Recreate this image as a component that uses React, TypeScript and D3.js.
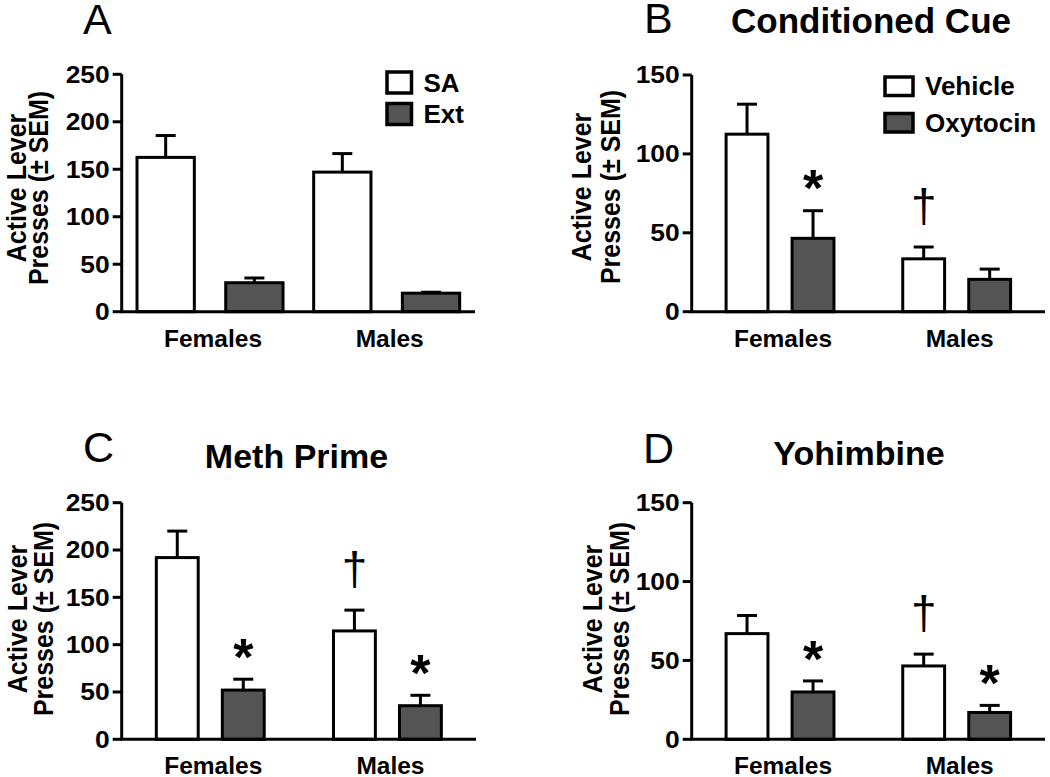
import React from 'react'
import * as d3 from 'd3'

const FONT = "'Liberation Sans', Arial, Helvetica, sans-serif"

const groups = ['Females', 'Males']
const saSeries = ['SA', 'Ext']
const drugSeries = ['Vehicle', 'Oxytocin']

const ticks250 = [0, 50, 100, 150, 200, 250]
const ticks150 = [0, 50, 100, 150]

// A - self-administration vs extinction
const saMean = [162.5, 147]
const saSem = [23, 19.5]
const extMean = [30.5, 19.5]
const extSem = [5, 1]

// B - conditioned cue
const cueVehMean = [112.5, 33.5]
const cueVehSem = [19, 7.5]
const cueOxyMean = [46.5, 20.5]
const cueOxySem = [17.5, 6.5]
const cueVehMarks = ['', '†']
const cueOxyMarks = ['*', '']

// C - meth prime
const primeVehMean = [192, 114.5]
const primeVehSem = [28, 22]
const primeOxyMean = [52, 35.5]
const primeOxySem = [11.5, 11]
const primeVehMarks = ['', '†']
const primeOxyMarks = ['*', '*']

// D - yohimbine
const yohVehMean = [67, 46.5]
const yohVehSem = [11.5, 7.5]
const yohOxyMean = [30, 17]
const yohOxySem = [7, 4.5]
const yohVehMarks = ['', '†']
const yohOxyMarks = ['*', '*']

const noMarks = ['', '']
const fills = ['#ffffff', '#545454']

function Panel(props: any) {
  const {
    letter, letterX, letterY, title, titleX, titleY, titleSize,
    left, right, top, bottom, yMax, yTicks, series, means, sems, marks,
    spacing, label1X, label2X, labelY, legend
  } = props

  const y = d3.scaleLinear().domain([0, yMax]).range([bottom, top])
  const x = d3.scalePoint<string>().domain(groups).range([left, right]).padding(0.5)
  const inner = d3.scaleBand<string>().domain(series).range([-spacing, spacing])
  const barW = inner.bandwidth() * 0.68
  const sw = 3
  const starSize = 52
  const daggerSize = 46

  return (
    <g fontFamily={FONT}>
      <text x={letterX} y={letterY} fontSize={43}>{letter}</text>
      {title && (
        <text x={titleX} y={titleY} fontSize={titleSize} fontWeight="bold" textAnchor="middle">
          {title}
        </text>
      )}

      {/* y label, two lines (the original is a bit stretched sideways) */}
      <text transform={`translate(${label1X},${labelY}) rotate(-90) scale(1,1.1)`} fontSize={25}
        fontWeight="bold" textAnchor="middle">Active Lever</text>
      <text transform={`translate(${label2X},${labelY}) rotate(-90) scale(1,1.1)`} fontSize={25}
        fontWeight="bold" textAnchor="middle">Presses (± SEM)</text>

      {/* bars */}
      {series.map((s: string, si: number) =>
        groups.map((g, gi) => {
          const cx = x(g)! + inner(s)! + inner.bandwidth() / 2
          const m = means[si][gi]
          const e = m + sems[si][gi]
          const mark = marks[si][gi]
          return (
            <g key={s + g}>
              <line x1={cx} x2={cx} y1={y(m)} y2={y(e)} stroke="#000" strokeWidth={sw} />
              <line x1={cx - 10} x2={cx + 10} y1={y(e)} y2={y(e)} stroke="#000" strokeWidth={sw} />
              <rect x={cx - barW / 2 + sw / 2} y={y(m)} width={barW - sw}
                height={y(0) - y(m)} fill={fills[si]} stroke="#000" strokeWidth={sw} />
              {mark === '*' && (
                <text x={cx} y={y(e) - 34 + 0.57 * starSize} fontSize={starSize} fontWeight="bold"
                  textAnchor="middle">*</text>
              )}
              {mark === '†' && (
                <text x={cx} y={y(e) - 37 + 0.26 * daggerSize} fontSize={daggerSize}
                  textAnchor="middle">†</text>
              )}
            </g>
          )
        })
      )}

      {/* axes */}
      <line x1={left} x2={left} y1={top} y2={bottom} stroke="#000" strokeWidth={3} />
      <line x1={left - 1.5} x2={right} y1={bottom} y2={bottom} stroke="#000" strokeWidth={3} />
      {yTicks.map((t: number) => (
        <g key={t}>
          <line x1={left - 9} x2={left} y1={y(t)} y2={y(t)} stroke="#000" strokeWidth={3} />
          <text transform={`translate(${left - 12},${y(t)}) scale(1.1,1)`} dy="0.35em" fontSize={24}
            fontWeight="bold" textAnchor="end">{t}</text>
        </g>
      ))}
      {groups.map(g => (
        <text key={g} x={x(g)! + 3} y={bottom + 35} fontSize={24.5} fontWeight="bold"
          textAnchor="middle">{g}</text>
      ))}

      {legend &&
        series.map((s: string, si: number) => (
          <g key={s}>
            <rect x={legend.x} y={legend.y + si * legend.gap} width={legend.w} height={legend.h}
              fill={fills[si]} stroke="#000" strokeWidth={3.5} />
            <text x={legend.x + legend.w + 12} y={legend.y + si * legend.gap + legend.h / 2 + 9}
              fontSize={26} fontWeight="bold">{s}</text>
          </g>
        ))}
    </g>
  )
}

export default function App() {
  return (
    <svg width={1050} height={777} style={{ position: 'absolute', left: 0, top: 0, background: '#fff' }}>
      <rect width={1050} height={777} fill="#fff" />
      <Panel letter="A" letterX={83} letterY={34}
        left={121.7} right={475} top={74.3} bottom={311.7} yMax={250} yTicks={ticks250}
        series={saSeries} means={[saMean, extMean]} sems={[saSem, extSem]} marks={[noMarks, noMarks]}
        spacing={88.7} label1X={25.5} label2X={48} labelY={188}
        legend={{ x: 387, y: 72, w: 24.5, h: 21, gap: 31.5 }} />
      <Panel letter="B" letterX={644} letterY={33} title="Conditioned Cue" titleX={871} titleY={33}
        titleSize={35}
        left={691.7} right={1045} top={75} bottom={311.7} yMax={150} yTicks={ticks150}
        series={drugSeries} means={[cueVehMean, cueOxyMean]} sems={[cueVehSem, cueOxySem]}
        marks={[cueVehMarks, cueOxyMarks]}
        spacing={66} label1X={591} label2X={620} labelY={187}
        legend={{ x: 885, y: 77, w: 28, h: 18.5, gap: 36.5 }} />
      <Panel letter="C" letterX={83} letterY={462} title="Meth Prime" titleX={296.5} titleY={468}
        titleSize={34}
        left={121.7} right={476} top={502.7} bottom={739.3} yMax={250} yTicks={ticks250}
        series={drugSeries} means={[primeVehMean, primeOxyMean]} sems={[primeVehSem, primeOxySem]}
        marks={[primeVehMarks, primeOxyMarks]}
        spacing={66} label1X={27} label2X={53} labelY={619} />
      <Panel letter="D" letterX={643} letterY={463} title="Yohimbine" titleX={859} titleY={465}
        titleSize={34}
        left={691.7} right={1045} top={502.7} bottom={739.3} yMax={150} yTicks={ticks150}
        series={drugSeries} means={[yohVehMean, yohOxyMean]} sems={[yohVehSem, yohOxySem]}
        marks={[yohVehMarks, yohOxyMarks]}
        spacing={66} label1X={602} label2X={629} labelY={619} />
    </svg>
  )
}
